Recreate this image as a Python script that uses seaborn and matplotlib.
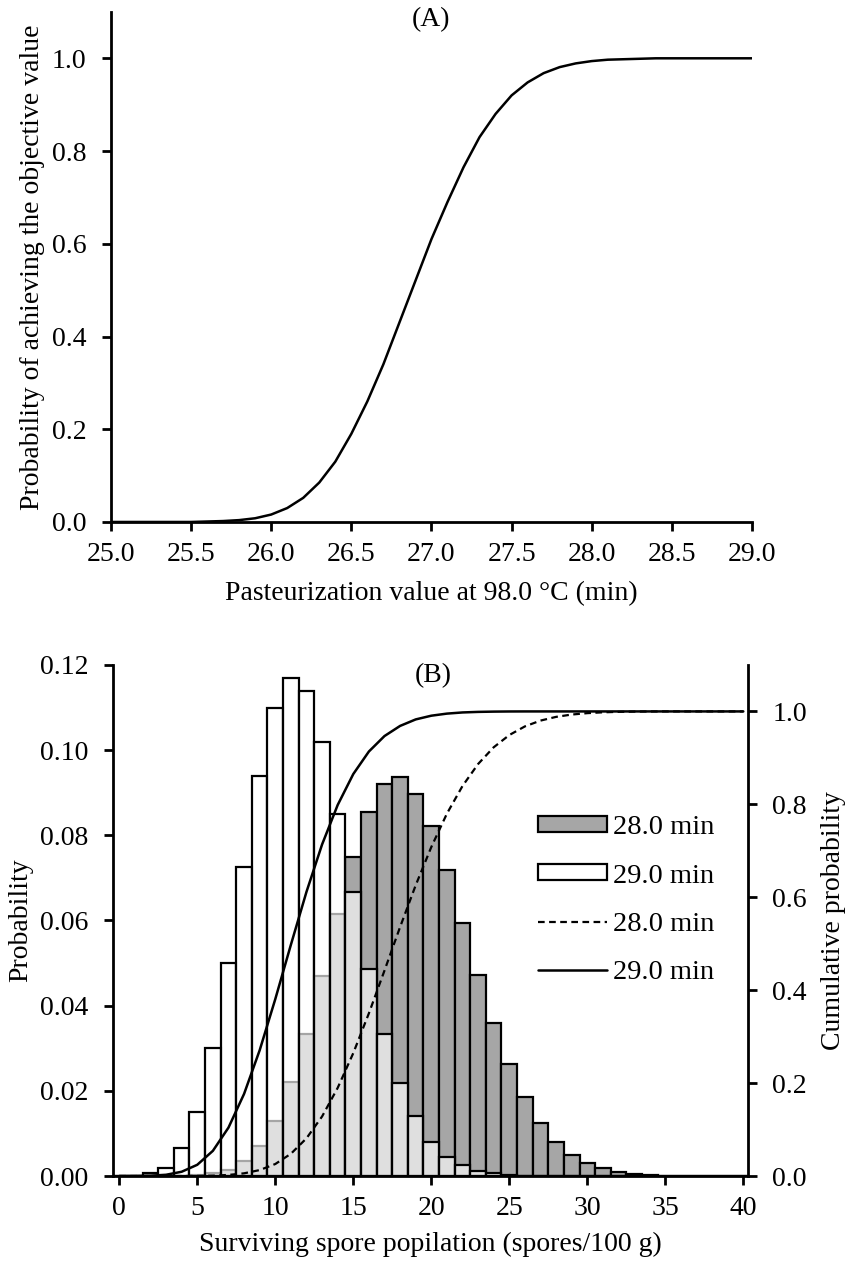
import numpy as np
import matplotlib
matplotlib.use("Agg")
import matplotlib.pyplot as plt
import seaborn as sns
from matplotlib.patches import Patch
from matplotlib.lines import Line2D

# ---------------- data ----------------
# Panel A: probability of achieving the objective value vs pasteurization value
pv_min = [25.0, 25.1, 25.2, 25.3, 25.4, 25.5, 25.6, 25.7, 25.8, 25.9,
          26.0, 26.1, 26.2, 26.3, 26.4, 26.5, 26.6, 26.7, 26.8, 26.9,
          27.0, 27.1, 27.2, 27.3, 27.4, 27.5, 27.6, 27.7, 27.8, 27.9,
          28.0, 28.1, 28.2, 28.3, 28.4, 28.5, 28.6, 28.7, 28.8, 28.9, 29.0]
prob_obj = [0.000, 0.000, 0.000, 0.000, 0.000, 0.000, 0.001, 0.002, 0.004, 0.008,
            0.016, 0.030, 0.052, 0.085, 0.130, 0.190, 0.260, 0.340, 0.430, 0.520,
            0.610, 0.690, 0.765, 0.830, 0.880, 0.920, 0.948, 0.968, 0.981, 0.989,
            0.994, 0.997, 0.998, 0.999, 1.000, 1.000, 1.000, 1.000, 1.000, 1.000, 1.000]

# Panel B: surviving spore population histograms
spores = list(range(0, 41))
p_28min = [0, 0, 0, 0, 0, 0.0002, 0.0006, 0.0015, 0.0035, 0.007,
           0.013, 0.022, 0.0333, 0.047, 0.0615, 0.0748, 0.0855, 0.092, 0.0936, 0.0898,
           0.0822, 0.0718, 0.0595, 0.0473, 0.036, 0.0263, 0.0186, 0.0125, 0.008, 0.005,
           0.003, 0.0018, 0.001, 0.0005, 0.0003, 0.0001, 0, 0, 0, 0, 0]
p_29min = [0, 0.0001, 0.0006, 0.002, 0.0065, 0.015, 0.030, 0.050, 0.0726, 0.094,
           0.110, 0.117, 0.114, 0.102, 0.085, 0.0666, 0.0485, 0.0333, 0.0218, 0.014,
           0.008, 0.0045, 0.0025, 0.0012, 0.0006, 0.0003, 0.0001, 0, 0, 0,
           0, 0, 0, 0, 0, 0, 0, 0, 0, 0, 0]
labels = ["28.0 min", "29.0 min"]

# ---------------- style ----------------
FS = 20
sns.set_theme(style="ticks")
plt.rcParams["font.family"] = ["Liberation Serif", "DejaVu Serif"]
plt.rcParams.update({
    "font.size": FS,
    "axes.labelsize": FS,
    "xtick.labelsize": FS,
    "ytick.labelsize": FS,
    "legend.fontsize": 20.5,
    "axes.linewidth": 2.0,
    "axes.edgecolor": "black",
    "axes.labelcolor": "black",
    "text.color": "black",
    "xtick.color": "black",
    "ytick.color": "black",
    "xtick.major.width": 2.0,
    "ytick.major.width": 2.0,
    "xtick.major.size": 6.5,
    "ytick.major.size": 6.5,
    "xtick.major.pad": 8,
    "ytick.major.pad": 11,
    "xtick.direction": "out",
    "ytick.direction": "out",
})

fig = plt.figure(figsize=(8.53, 12.7), dpi=100)

# ---------------- Panel A ----------------
axA = fig.add_axes([0.130, 0.589, 0.7516, 0.4016])
sns.lineplot(x=pv_min, y=prob_obj, ax=axA, color="black", linewidth=1.8)
axA.set_xlim(25.0, 29.0)
axA.set_ylim(0, 1.1)
axA.set_xticks(np.arange(25.0, 29.01, 0.5))
axA.set_xticklabels([f"{v:.1f}" for v in np.arange(25.0, 29.01, 0.5)])
axA.set_yticks(np.arange(0, 1.01, 0.2))
axA.set_yticklabels([f"{v:.1f}" for v in np.arange(0, 1.01, 0.2)])
axA.set_xlabel("Pasteurization value at 98.0 \u00b0C (min)", labelpad=10)
axA.set_ylabel("Probability of achieving the objective value", labelpad=5)
axA.text(0.5, 0.984, "(A)", transform=axA.transAxes, ha="center", va="center")
sns.despine(ax=axA)

# ---------------- Panel B ----------------
axB = fig.add_axes([0.1325, 0.074, 0.7444, 0.4024])
sns.histplot(x=spores, weights=p_28min, discrete=True, shrink=1, ax=axB,
             color="#a6a6a6", edgecolor="black", linewidth=1.6, alpha=1)
n0 = len(axB.patches)
sns.histplot(x=spores, weights=p_29min, discrete=True, shrink=1, ax=axB,
             color="white", edgecolor="black", linewidth=1.6)
for p in axB.patches[n0:]:
    p.set_alpha(None)
    p.set_facecolor((1, 1, 1, 0.65))
    p.set_edgecolor("black")

axB.set_xlim(-0.4, 40.3)
axB.set_ylim(0, 0.12)
axB.set_xticks(range(0, 41, 5))
axB.set_yticks(np.arange(0, 0.121, 0.02))
axB.set_yticklabels([f"{v:.2f}" for v in np.arange(0, 0.121, 0.02)])
axB.set_xlabel("Surviving spore popilation (spores/100 g)", labelpad=8)
axB.set_ylabel("Probability", labelpad=5)
axB.spines["top"].set_visible(False)
axB.spines["right"].set_visible(False)

axB2 = axB.twinx()
cdf28 = np.cumsum(p_28min) / np.sum(p_28min)
cdf29 = np.cumsum(p_29min) / np.sum(p_29min)
sns.lineplot(x=spores, y=cdf28, ax=axB2, color="black", linewidth=1.6,
             linestyle=(0, (3, 2)))
sns.lineplot(x=spores, y=cdf29, ax=axB2, color="black", linewidth=1.8)
axB2.set_ylim(0, 1.1)
axB2.set_yticks(np.arange(0, 1.01, 0.2))
axB2.set_yticklabels([f"{v:.1f}" for v in np.arange(0, 1.01, 0.2)])
axB2.set_ylabel("Cumulative probability", labelpad=10)
for s in ["top", "left", "bottom"]:
    axB2.spines[s].set_visible(False)
axB2.text(0.504, 0.98, "(B)", transform=axB2.transAxes, ha="center", va="center")

handles = [
    Patch(facecolor="#a6a6a6", edgecolor="black", linewidth=1.6),
    Patch(facecolor="white", edgecolor="black", linewidth=1.6),
    Line2D([0], [0], color="black", linewidth=1.6, linestyle=(0, (3, 2))),
    Line2D([0], [0], color="black", linewidth=1.8),
]
axB2.legend(handles, labels + labels, loc="upper left",
            bbox_to_anchor=(0.669, 0.706), frameon=False,
            borderpad=0, borderaxespad=0, handlelength=2.42,
            handleheight=0.49, handletextpad=0.21, labelspacing=0.82)

fig.savefig("out.png", dpi=100)
